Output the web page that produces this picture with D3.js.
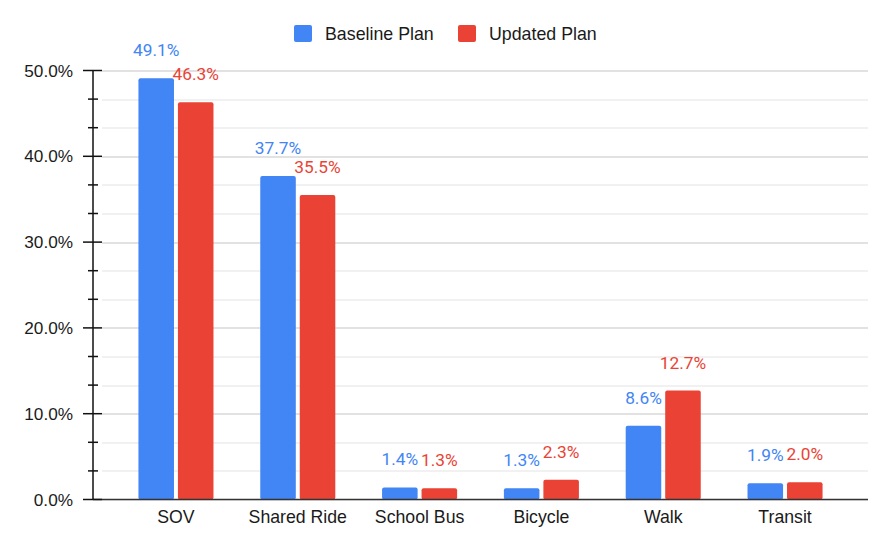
<!DOCTYPE html>
<html>
<head>
<meta charset="utf-8">
<script src="https://cdn.jsdelivr.net/npm/d3@7"></script>
<style>
  body { margin: 0; background: #fff; }
  svg { display: block; }
</style>
</head>
<body>
<svg id="chart"></svg>
<script>
const categories = ["SOV", "Shared Ride", "School Bus", "Bicycle", "Walk", "Transit"];
const seriesNames = ["Baseline Plan", "Updated Plan"];
const baselineValues = [49.1, 37.7, 1.4, 1.3, 8.6, 1.9];
const updatedValues = [46.3, 35.5, 1.3, 2.3, 12.7, 2.0];
const yTicks = [0, 10, 20, 30, 40, 50];
const colors = ["#4285F4", "#EA4335"];

const width = 893, height = 550;
const margin = {top: 70.5, right: 25, bottom: 50.5, left: 93};
const innerWidth = width - margin.left - margin.right;
const innerHeight = height - margin.top - margin.bottom;

const svg = d3.select("#chart").attr("width", width).attr("height", height);
const chart = svg.append("g").attr("transform", `translate(${margin.left},${margin.top})`);

const data = categories.map((c, i) => ({
    category: c,
    values: [baselineValues[i], updatedValues[i]]
}));

const x0 = d3.scaleBand().domain(categories).range([0, innerWidth])
    .paddingInner(0.384).paddingOuter(0.373);
const x1 = d3.scaleBand().domain(d3.range(seriesNames.length)).range([0, x0.bandwidth()])
    .paddingInner(0.1);
const y = d3.scaleLinear().domain([0, 50]).range([innerHeight, 0]);

// minor gridlines (every third of a major step)
const minorTicks = d3.range(0, 50.001, 10 / 3);
chart.append("g").selectAll("line").data(minorTicks).join("line")
    .attr("x1", 9).attr("x2", innerWidth)
    .attr("y1", d => Math.round(y(d)) + 0.5).attr("y2", d => Math.round(y(d)) + 0.5)
    .attr("stroke", "#e3e3e3").attr("stroke-width", 1);

// major gridlines
chart.append("g").selectAll("line").data(yTicks.slice(1)).join("line")
    .attr("x1", 9).attr("x2", innerWidth)
    .attr("y1", d => Math.round(y(d)) + 0.5).attr("y2", d => Math.round(y(d)) + 0.5)
    .attr("stroke", "#d4d4d4").attr("stroke-width", 1.2);

// bars
const groups = chart.append("g").selectAll("g").data(data).join("g")
    .attr("transform", d => `translate(${x0(d.category)},0)`);

groups.selectAll("rect").data(d => d.values).join("rect")
    .attr("x", (d, i) => x1(i))
    .attr("y", d => y(d))
    .attr("width", x1.bandwidth())
    .attr("height", d => innerHeight - y(d))
    .attr("rx", 2)
    .attr("fill", (d, i) => colors[i]);

// data labels
groups.selectAll("text").data(d => d.values).join("text")
    .attr("x", (d, i) => x1(i) + x1.bandwidth() / 2)
    .attr("y", d => y(d) - 22)
    .attr("text-anchor", "middle")
    .attr("font-family", "Roboto, sans-serif")
    .attr("font-size", 17.3)
    .attr("fill", (d, i) => colors[i])
    .text(d => d.toFixed(1) + "%");

// baseline
chart.append("line")
    .attr("x1", 0).attr("x2", innerWidth)
    .attr("y1", innerHeight).attr("y2", innerHeight)
    .attr("stroke", "#333").attr("stroke-width", 1.5);

// y axis
const yAxis = chart.append("g")
    .call(d3.axisLeft(y).tickValues(yTicks).tickSize(0).tickPadding(20)
        .tickFormat(d => d.toFixed(1) + "%"));
yAxis.select(".domain").remove();
yAxis.selectAll("text")
    .attr("font-family", "'Liberation Sans', Arial, sans-serif")
    .attr("font-size", 17.2)
    .attr("fill", "#1a1a1a");

chart.append("line")
    .attr("x1", 0).attr("x2", 0).attr("y1", 0).attr("y2", innerHeight)
    .attr("stroke", "#111").attr("stroke-width", 1.5);
chart.append("g").selectAll("line").data(yTicks).join("line")
    .attr("x1", -10).attr("x2", 9)
    .attr("y1", d => y(d)).attr("y2", d => y(d))
    .attr("stroke", "#111").attr("stroke-width", 1.5);
chart.append("g").selectAll("line").data(minorTicks.filter((d, i) => i % 3 !== 0)).join("line")
    .attr("x1", -5).attr("x2", 5)
    .attr("y1", d => y(d)).attr("y2", d => y(d))
    .attr("stroke", "#111").attr("stroke-width", 1.5);

// x axis labels
const xAxis = chart.append("g").attr("transform", `translate(0,${innerHeight})`)
    .call(d3.axisBottom(x0).tickSize(0).tickPadding(11));
xAxis.select(".domain").remove();
xAxis.selectAll("text")
    .attr("font-family", "'Liberation Sans', Arial, sans-serif")
    .attr("font-size", 17.7)
    .attr("fill", "#1a1a1a");

// legend
const legendX = [294, 458];
const legend = svg.append("g").selectAll("g").data(seriesNames).join("g")
    .attr("transform", (d, i) => `translate(${legendX[i]},25)`);
legend.append("rect")
    .attr("width", 18).attr("height", 17).attr("rx", 2)
    .attr("fill", (d, i) => colors[i]);
legend.append("text")
    .attr("x", 31).attr("y", 14.5)
    .attr("font-family", "'Liberation Sans', Arial, sans-serif")
    .attr("font-size", 17.8)
    .attr("fill", "#1a1a1a")
    .text(d => d);
</script>
</body>
</html>
